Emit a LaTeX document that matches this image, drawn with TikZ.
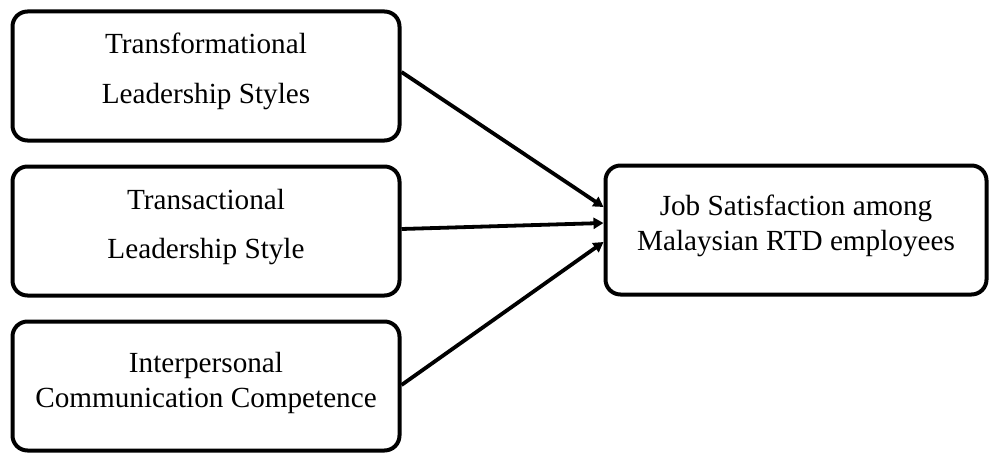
\documentclass[tikz,border=0pt]{standalone}
\usepackage{fontspec}
\setmainfont{Liberation Serif}
\usetikzlibrary{arrows.meta}
\begin{document}
\begin{tikzpicture}[x=1pt,y=-1pt,
  box/.style={draw=black,line width=4pt,rounded corners=15pt,minimum width=387pt,minimum height=129pt,inner sep=0pt},
  lbl/.style={anchor=base,inner sep=0pt,font=\fontsize{29.2}{34}\selectfont},
  conn/.style={line width=3.8pt,-{Triangle[length=10pt,width=11pt]}}]
\useasboundingbox (0,0) rectangle (992,452);
\node[box] (b1) at (206,76) {};
\node[box] (b2) at (206,231) {};
\node[box] (b3) at (206,386) {};
\node[box,minimum width=381pt] (r) at (796,230) {};
\node[lbl] (t1a) at (206,54) {Transformational};
\node[lbl] (t1b) at (206,103) {Leadership Styles};
\node[lbl] (t2a) at (206,209) {Transactional};
\node[lbl] (t2b) at (206,258) {Leadership Style};
\node[lbl] (t3a) at (206,372) {Interpersonal};
\node[lbl] (t3b) at (206,407) {Communication Competence};
\node[lbl] (tra) at (796,215) {Job Satisfaction among};
\node[lbl] (trb) at (796,250) {Malaysian RTD employees};
\draw[conn] ([yshift=4pt]b1.east) -- ([yshift=23pt]r.west);
\draw[conn] ([yshift=2pt]b2.east) -- ([yshift=7pt]r.west);
\draw[conn] ([yshift=1pt]b3.east) -- ([yshift=-12pt]r.west);
\end{tikzpicture}
\end{document}
